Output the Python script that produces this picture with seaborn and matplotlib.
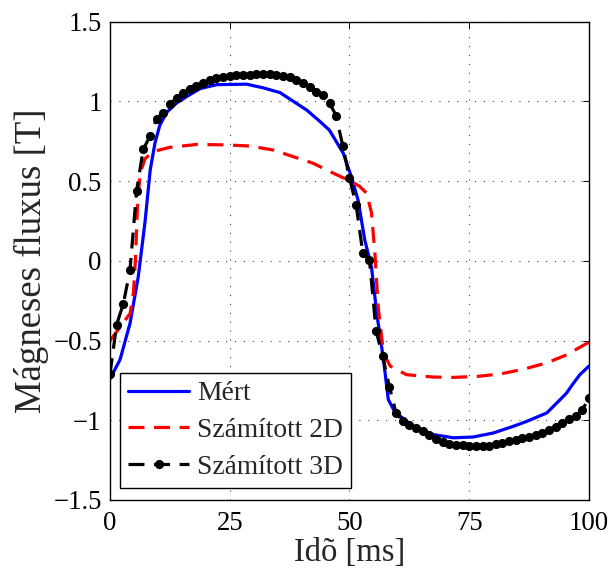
import numpy as np
import pandas as pd
import matplotlib
matplotlib.use("Agg")
import matplotlib.pyplot as plt
import seaborn as sns

# ---- data ----
t_mert = [0, 2.1, 4.2, 5.9, 7.3, 8.4, 9.4, 10.4, 11.8, 13.9, 16.0, 18.8, 22.3, 28.5,
          32.0, 35.5, 38.3, 41.1, 43.8, 45.8, 48.7, 50.5, 51.8, 53.2, 54.6, 55.7,
          57.1, 58.1, 59.5, 60.2, 63.3, 67.5, 71.7, 75.8, 80.0, 84.2, 87.0, 91.2,
          94.0, 95.3, 96.7, 98.1, 100]
y_mert = [-0.74, -0.62, -0.39, -0.10, 0.24, 0.57, 0.74, 0.85, 0.93, 0.99, 1.03, 1.08,
          1.105, 1.108, 1.085, 1.055, 1.0, 0.945, 0.875, 0.82, 0.675, 0.518, 0.38,
          0.13, -0.04, -0.33, -0.62, -0.87, -0.95, -0.965, -1.038, -1.09, -1.11,
          -1.105, -1.08, -1.038, -1.007, -0.954, -0.87, -0.83, -0.77, -0.714, -0.66]

t_2d = [0, 2.0, 4.2, 4.9, 5.3, 5.7, 6.3, 7.3, 9.0, 12.5, 18.1, 24.4, 29.2, 34.1, 38.3,
        42.4, 46.6, 49.7, 52.0, 53.6, 54.6, 55.3, 56.0, 57.1, 58.5, 61.9, 67.5, 71.7,
        76.6, 81.4, 86.3, 91.2, 95.3, 100]
y_2d = [-0.50, -0.42, -0.33, -0.20, 0.0, 0.32, 0.55, 0.64, 0.685, 0.712, 0.73, 0.727,
        0.72, 0.695, 0.653, 0.612, 0.55, 0.507, 0.47, 0.424, 0.30, 0.05, -0.29, -0.58,
        -0.66, -0.714, -0.729, -0.731, -0.725, -0.71, -0.68, -0.64, -0.59, -0.51]

t_3d = [0.0, 1.39, 2.78, 4.17, 5.56, 6.94, 8.33, 9.72, 11.11, 12.5, 13.89, 15.28,
        16.67, 18.06, 19.44, 20.83, 22.22, 23.61, 25.0, 26.39, 27.78, 29.17, 30.56,
        31.94, 33.33, 34.72, 36.11, 37.5, 38.89, 40.28, 41.67, 43.06, 44.44, 45.83,
        47.22, 48.61, 50.0, 51.39, 52.78, 54.17, 55.56, 56.94, 58.33, 59.72, 61.11,
        62.5, 63.89, 65.28, 66.67, 68.06, 69.44, 70.83, 72.22, 73.61, 75.0, 76.39,
        77.78, 79.17, 80.56, 81.94, 83.33, 84.72, 86.11, 87.5, 88.89, 90.28, 91.67,
        93.06, 94.44, 95.83, 97.22, 98.61, 100.0]
y_3d = [-0.71, -0.40, -0.27, -0.06, 0.44, 0.70, 0.78, 0.89, 0.93, 0.985, 1.02, 1.05,
        1.075, 1.095, 1.115, 1.135, 1.145, 1.155, 1.16, 1.165, 1.167, 1.168, 1.17,
        1.172, 1.172, 1.168, 1.16, 1.15, 1.135, 1.115, 1.09, 1.06, 1.04, 0.99, 0.91,
        0.72, 0.52, 0.35, 0.05, 0.005, -0.44, -0.60, -0.79, -0.955, -1.005, -1.028,
        -1.048, -1.068, -1.095, -1.12, -1.137, -1.147, -1.153, -1.158, -1.162,
        -1.163, -1.163, -1.16, -1.15, -1.14, -1.13, -1.122, -1.112, -1.102, -1.092,
        -1.082, -1.062, -1.042, -1.02, -0.99, -0.975, -0.935, -0.86]

labels = ["Mért", "Számított 2D", "Számított 3D"]
x_ticks = [0, 25, 50, 75, 100]
y_ticks = [-1.5, -1, -0.5, 0, 0.5, 1, 1.5]
y_ticklabels = ["\u22121.5", "\u22121", "\u22120.5", "0", "0.5", "1", "1.5"]

# ---- style ----
sns.set_style("white")
plt.rcParams["font.family"] = ["Liberation Serif", "DejaVu Serif"]

fig = plt.figure(figsize=(6.08, 5.69), dpi=100)
ax = fig.add_axes([0.1809, 0.1213, 0.7878, 0.8406])

dash = (0, (5, 3))
sns.lineplot(x=t_mert, y=y_mert, ax=ax, color=(0, 0, 1), lw=2.3, sort=False,
             estimator=None, errorbar=None, label=labels[0])
sns.lineplot(x=t_2d, y=y_2d, ax=ax, color=(1, 0, 0), lw=2.3, sort=False,
             estimator=None, errorbar=None, linestyle=dash, label=labels[1])
sns.lineplot(x=t_3d, y=y_3d, ax=ax, color="k", lw=2.3, sort=False,
             estimator=None, errorbar=None, linestyle=dash, marker="o",
             markersize=6.6, markeredgewidth=0, markerfacecolor="k",
             label=labels[2])

ax.set_xlim(0, 100)
ax.set_ylim(-1.5, 1.5)
ax.set_xticks(x_ticks)
ax.set_xticklabels([str(v) for v in x_ticks])
ax.set_yticks(y_ticks)
ax.set_yticklabels(y_ticklabels)

ax.grid(True, color="0.25", linestyle=(0, (1, 7)), lw=0.8)
for s in ax.spines.values():
    s.set_visible(True)
    s.set_color("k")
    s.set_linewidth(1.0)

ax.tick_params(axis="both", direction="in", length=4, width=0.7, colors="k",
               labelsize=19.3, top=True, right=True)
ax.tick_params(axis="x", pad=8)
ax.tick_params(axis="y", pad=6)

ax.set_xlabel("Idõ [ms]", fontsize=23.5, labelpad=1)
ax.set_ylabel("Mágneses fluxus [T]", fontsize=26.5, labelpad=3)

leg = ax.legend(loc="lower left", bbox_to_anchor=(0.021, 0.025), borderaxespad=0,
                fontsize=19.8, frameon=True, fancybox=False, framealpha=1,
                edgecolor="k", handlelength=2.2, handletextpad=0.3,
                borderpad=0.3, labelspacing=0.42, numpoints=1)
leg.get_frame().set_linewidth(1.0)

fig.savefig("out.png", dpi=100)
